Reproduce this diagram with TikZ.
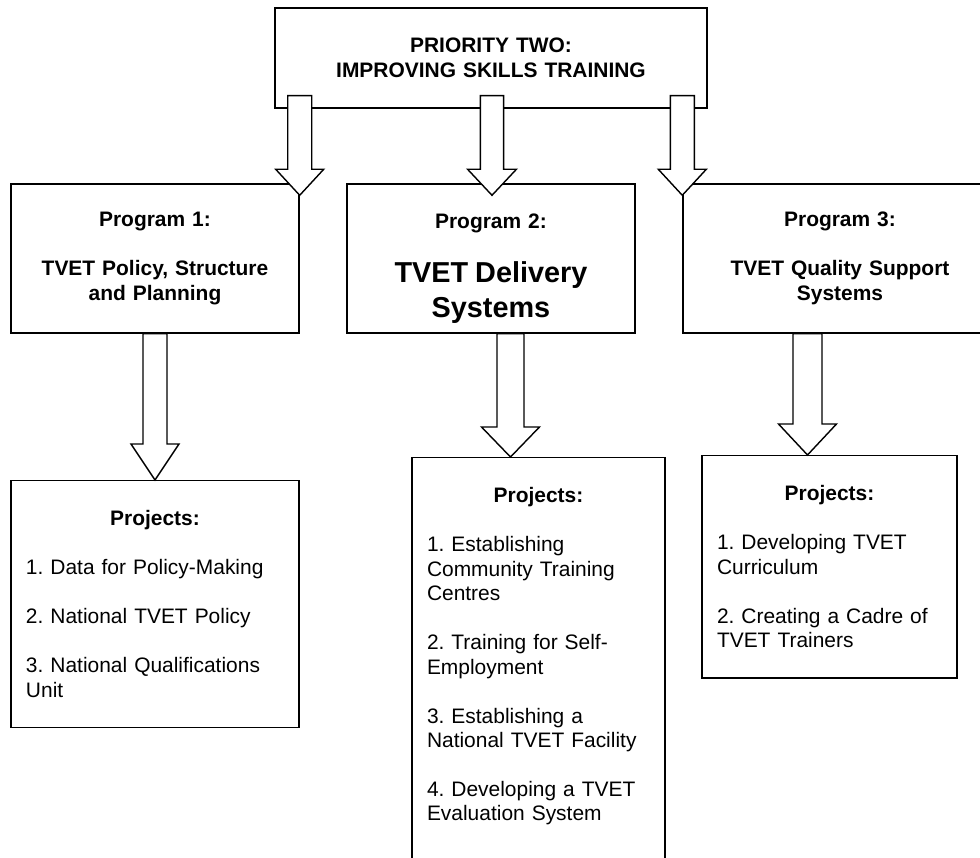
\documentclass[tikz,border=0pt]{standalone}
\usepackage{fontspec}
\setmainfont{Liberation Sans}
\usepackage{tikz}
\usetikzlibrary{calc}
\frenchspacing

\tikzset{
  plainbox/.style={draw, line width=1pt, fill=white, inner sep=0pt},
  progbox/.style={plainbox, align=center, text width=#1, minimum height=3.725cm,
    font=\bfseries\fontsize{14.9pt}{17.4pt}\selectfont},
  projbox/.style={plainbox, anchor=north, align=left, text width=#1,
    inner xsep=0.375cm, inner ysep=0.75cm, font=\fontsize{14.9pt}{17.4pt}\selectfont},
}

% hollow block arrow: from, to, half shaft, half head, head length
\newcommand{\blockarrow}[5]{%
  \draw[line width=1pt, fill=white] let \p1=(#1), \p2=(#2) in
    (\x1-#3,\y1) -- (\x1+#3,\y1) -- (\x1+#3,\y2+#5) -- (\x1+#4,\y2+#5)
    -- (\x1,\y2) -- (\x1-#4,\y2+#5) -- (\x1-#3,\y2+#5) -- cycle;}

\newcommand{\projhead}{\makebox[\linewidth]{\textbf{Projects:}}}

\begin{document}
\begin{tikzpicture}
	\useasboundingbox (0,0) rectangle (24.5,21.45);
	\node[plainbox, align=center, text width=10.8cm, minimum height=2.5cm,
	  font=\bfseries\fontsize{14.9pt}{17.8pt}\selectfont] (prio) at (12.275,20.0)
	  {PRIORITY TWO:\\IMPROVING SKILLS TRAINING};
	\node[progbox=7.2cm] (prog1) at (3.875,14.9875)
	  {Program 1:\\[17.4pt]TVET Policy, Structure\\and Planning};
	\node[progbox=7.2cm] (prog2) at (12.275,14.9875)
	  {\rule{0pt}{24.2pt}Program 2:\\[14.9pt]{\fontsize{20.5pt}{24.2pt}\selectfont TVET Delivery\\Systems\par}};
	\node[progbox=7.85cm] (prog3) at (21.0,14.9875)
	  {Program 3:\\[17.4pt]TVET Quality Support\\Systems};
	\node[projbox=6.45cm] (proj1) at (3.875,9.45)
	  {\projhead\\[17.4pt]1. Data for Policy-Making\\[17.4pt]2. National TVET Policy\\[17.4pt]3. National Qualifications\\Unit};
	\node[projbox=5.575cm] (proj2) at (13.4625,10.025)
	  {\projhead\\[17.4pt]1. Establishing\\Community Training\\Centres\\[17.4pt]2. Training for Self-\\Employment\\[17.4pt]3. Establishing a\\National TVET Facility\\[17.4pt]4. Developing a TVET\\Evaluation System\\[17.4pt]\mbox{}};
	\node[projbox=5.625cm] (proj3) at (20.7375,10.075)
	  {\projhead\\[17.4pt]1. Developing TVET\\Curriculum\\[17.4pt]2. Creating a Cadre of\\TVET Trainers};
	\coordinate (s1) at ($(prio.south -| prog1.east)+(0,0.325)$);
	\coordinate (t1) at ($(prog1.north east)+(0,-0.3)$);
	\coordinate (s2) at ($(prio.south)+(0.025,0.325)$);
	\coordinate (t2) at ($(prog2.north)+(0.025,-0.3)$);
	\coordinate (s3) at ($(prio.south -| prog3.west)+(0,0.325)$);
	\coordinate (t3) at ($(prog3.north west)+(0,-0.3)$);
	\coordinate (s5) at ($(prog2.south)+(0.4875,0)$);
	\coordinate (s6) at ($(prog3.south)+(-0.8125,0)$);
	\blockarrow{s1}{t1}{0.3cm}{0.6cm}{0.65cm}
	\blockarrow{s2}{t2}{0.29cm}{0.61cm}{0.65cm}
	\blockarrow{s3}{t3}{0.3cm}{0.6cm}{0.65cm}
	\blockarrow{prog1.south}{proj1.north}{0.3cm}{0.6cm}{0.9cm}
	\blockarrow{s5}{s5 |- proj2.north}{0.3375cm}{0.725cm}{0.75cm}
	\blockarrow{s6}{s6 |- proj3.north}{0.3625cm}{0.725cm}{0.775cm}
\end{tikzpicture}
\end{document}
